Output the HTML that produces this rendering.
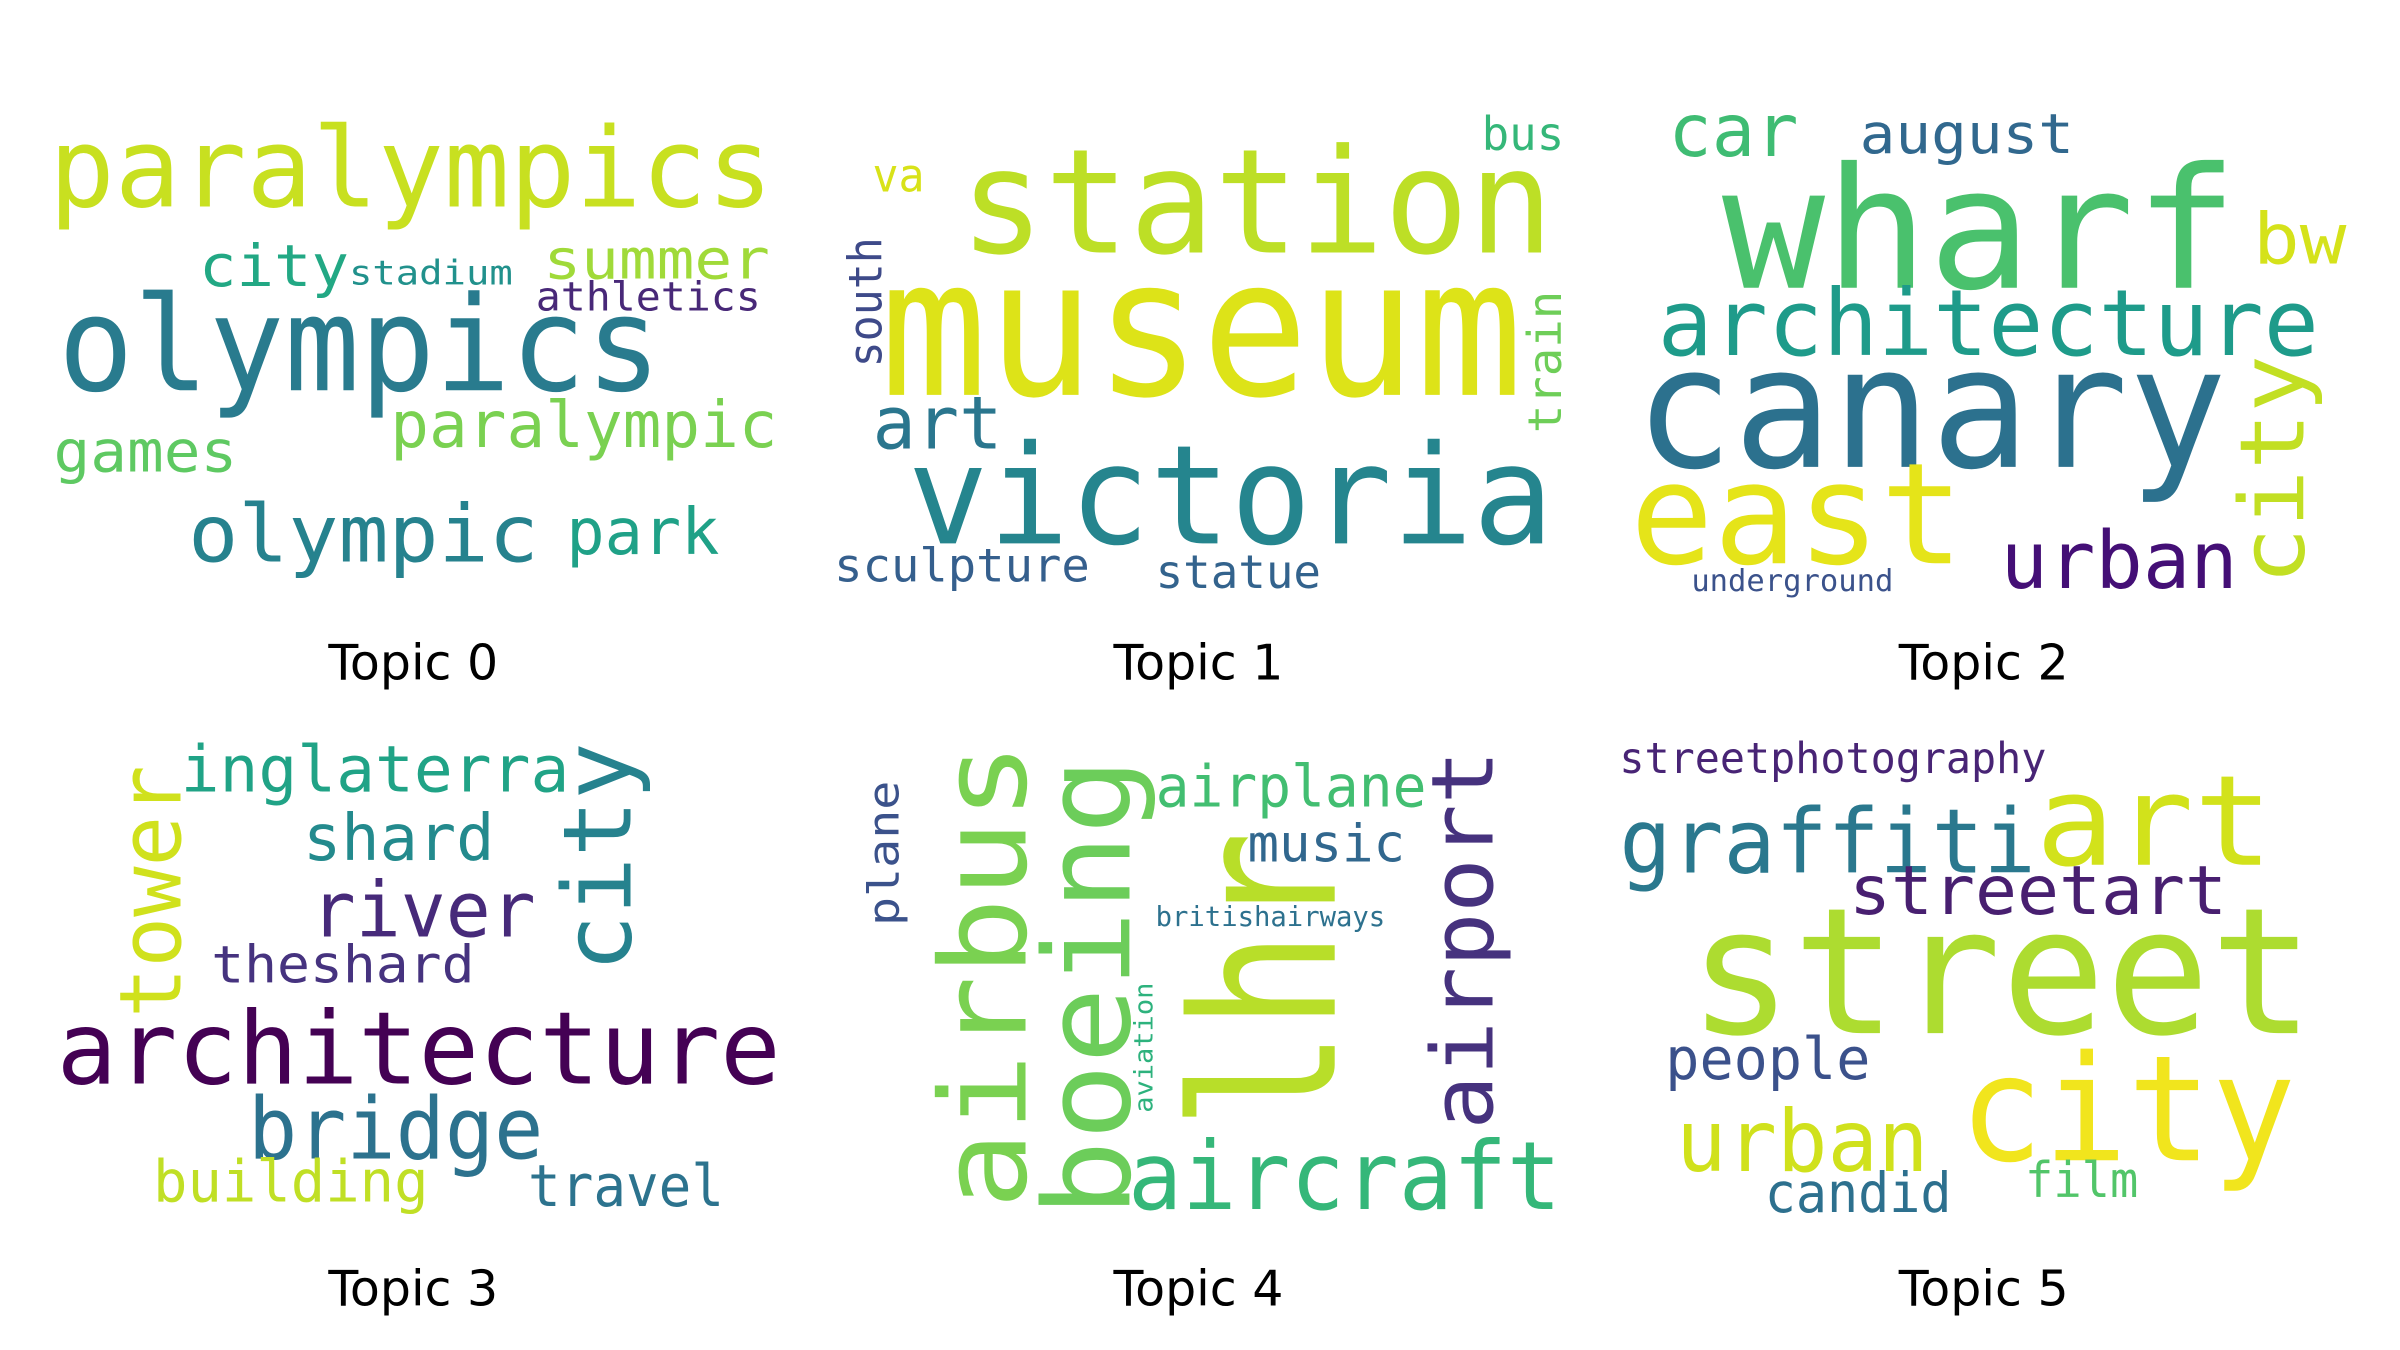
<!DOCTYPE html>
<html><head><meta charset="utf-8"><style>
html,body{margin:0;padding:0;background:#fff;}
svg{display:block;}
.w{font-family:"DejaVu Sans Mono","Liberation Mono",monospace;}
.t{font-family:"DejaVu Sans","Liberation Sans",sans-serif;font-size:32px;fill:#000;}
</style></head><body>
<svg width="2400" height="1350" viewBox="0 0 1568 882" xmlns="http://www.w3.org/2000/svg">
<g class="w">
<text x="32" y="135" font-size="72" fill="#c8e020" textLength="473" lengthAdjust="spacingAndGlyphs">paralympics</text>
<text x="38" y="255" font-size="86" fill="#297b8e" textLength="394" lengthAdjust="spacingAndGlyphs">olympics</text>
<text x="130" y="187" font-size="38" fill="#22a884" textLength="98" lengthAdjust="spacingAndGlyphs">city</text>
<text x="228" y="186" font-size="22" fill="#21918c" textLength="107" lengthAdjust="spacingAndGlyphs">stadium</text>
<text x="355" y="182" font-size="36" fill="#a0da39" textLength="148" lengthAdjust="spacingAndGlyphs">summer</text>
<text x="350" y="203" font-size="26" fill="#482878" textLength="147" lengthAdjust="spacingAndGlyphs">athletics</text>
<text x="35" y="308" font-size="38" fill="#5ec962" textLength="120" lengthAdjust="spacingAndGlyphs">games</text>
<text x="255" y="292" font-size="42" fill="#7ad151" textLength="253" lengthAdjust="spacingAndGlyphs">paralympic</text>
<text x="123" y="367" font-size="52" fill="#26828e" textLength="229" lengthAdjust="spacingAndGlyphs">olympic</text>
<text x="370" y="362" font-size="42" fill="#1fa187" textLength="100" lengthAdjust="spacingAndGlyphs">park</text>
</g>
<text class="t" x="270" y="444" text-anchor="middle">Topic 0</text>

<g class="w">
<text x="627" y="165" font-size="95" fill="#bddf26" textLength="388" lengthAdjust="spacingAndGlyphs">station</text>
<text x="575" y="258" font-size="125" fill="#dde318" textLength="420" lengthAdjust="spacingAndGlyphs">museum</text>
<text x="593" y="355" font-size="90" fill="#25858e" textLength="422" lengthAdjust="spacingAndGlyphs">victoria</text>
<text x="570" y="293" font-size="48" fill="#2a768e" textLength="85" lengthAdjust="spacingAndGlyphs">art</text>
<text x="570" y="125" font-size="30" fill="#d8e219" textLength="34" lengthAdjust="spacingAndGlyphs">va</text>
<text x="968" y="98" font-size="30" fill="#35b779" textLength="54" lengthAdjust="spacingAndGlyphs">bus</text>
<text transform="translate(576,240) rotate(-90)" font-size="30" fill="#3e4a89" textLength="85" lengthAdjust="spacingAndGlyphs">south</text>
<text transform="translate(1020,283) rotate(-90)" font-size="30" fill="#6ece58" textLength="93" lengthAdjust="spacingAndGlyphs">train</text>
<text x="545" y="380" font-size="30" fill="#355f8d" textLength="167" lengthAdjust="spacingAndGlyphs">sculpture</text>
<text x="755" y="384" font-size="30" fill="#33638d" textLength="108" lengthAdjust="spacingAndGlyphs">statue</text>
</g>
<text class="t" x="783" y="444" text-anchor="middle">Topic 1</text>

<g class="w">
<text x="1090" y="102" font-size="48" fill="#3fbc73" textLength="85" lengthAdjust="spacingAndGlyphs">car</text>
<text x="1215" y="100" font-size="36" fill="#31688e" textLength="140" lengthAdjust="spacingAndGlyphs">august</text>
<text x="1125" y="188" font-size="110" fill="#4ac16d" textLength="337" lengthAdjust="spacingAndGlyphs">wharf</text>
<text x="1472" y="172" font-size="46" fill="#d5e21a" textLength="61" lengthAdjust="spacingAndGlyphs">bw</text>
<text x="1083" y="232" font-size="60" fill="#1e9b8a" textLength="432" lengthAdjust="spacingAndGlyphs">architecture</text>
<text x="1068" y="305" font-size="110" fill="#2c718e" textLength="387" lengthAdjust="spacingAndGlyphs">canary</text>
<text x="1065" y="368" font-size="92" fill="#e5e419" textLength="218" lengthAdjust="spacingAndGlyphs">east</text>
<text transform="translate(1505,382) rotate(-90)" font-size="58" fill="#c2df23" textLength="150" lengthAdjust="spacingAndGlyphs">city</text>
<text x="1307" y="384" font-size="52" fill="#440f76" textLength="155" lengthAdjust="spacingAndGlyphs">urban</text>
<text x="1105" y="386" font-size="20" fill="#3b528b" textLength="132" lengthAdjust="spacingAndGlyphs">underground</text>
</g>
<text class="t" x="1296" y="444" text-anchor="middle">Topic 2</text>

<g class="w">
<text x="118" y="517" font-size="42" fill="#20a386" textLength="254" lengthAdjust="spacingAndGlyphs">inglaterra</text>
<text transform="translate(412,635) rotate(-90)" font-size="62" fill="#26828e" textLength="150" lengthAdjust="spacingAndGlyphs">city</text>
<text transform="translate(118,665) rotate(-90)" font-size="56" fill="#d0e11c" textLength="165" lengthAdjust="spacingAndGlyphs">tower</text>
<text x="198" y="562" font-size="42" fill="#238a8d" textLength="125" lengthAdjust="spacingAndGlyphs">shard</text>
<text x="203" y="612" font-size="50" fill="#472a7a" textLength="147" lengthAdjust="spacingAndGlyphs">river</text>
<text x="138" y="642" font-size="34" fill="#46337f" textLength="172" lengthAdjust="spacingAndGlyphs">theshard</text>
<text x="37" y="708" font-size="66" fill="#440154" textLength="473" lengthAdjust="spacingAndGlyphs">architecture</text>
<text x="162" y="757" font-size="56" fill="#2c728e" textLength="193" lengthAdjust="spacingAndGlyphs">bridge</text>
<text x="100" y="785" font-size="38" fill="#c0df25" textLength="180" lengthAdjust="spacingAndGlyphs">building</text>
<text x="345" y="788" font-size="38" fill="#2c738e" textLength="128" lengthAdjust="spacingAndGlyphs">travel</text>
</g>
<text class="t" x="270" y="853" text-anchor="middle">Topic 3</text>

<g class="w">
<text transform="translate(670,790) rotate(-90)" font-size="78" fill="#7ad151" textLength="305" lengthAdjust="spacingAndGlyphs">airbus</text>
<text transform="translate(738,795) rotate(-90)" font-size="78" fill="#6ccd5a" textLength="300" lengthAdjust="spacingAndGlyphs">boeing</text>
<text transform="translate(872,738) rotate(-90)" font-size="130" fill="#b8de29" textLength="195" lengthAdjust="spacingAndGlyphs">lhr</text>
<text x="755" y="527" font-size="38" fill="#42be71" textLength="177" lengthAdjust="spacingAndGlyphs">airplane</text>
<text x="815" y="563" font-size="34" fill="#31678e" textLength="103" lengthAdjust="spacingAndGlyphs">music</text>
<text x="755" y="605" font-size="18" fill="#2d718e" textLength="150" lengthAdjust="spacingAndGlyphs">britishairways</text>
<text transform="translate(587,605) rotate(-90)" font-size="28" fill="#3b528b" textLength="95" lengthAdjust="spacingAndGlyphs">plane</text>
<text transform="translate(753,727) rotate(-90)" font-size="17" fill="#2db27d" textLength="85" lengthAdjust="spacingAndGlyphs">aviation</text>
<text transform="translate(975,738) rotate(-90)" font-size="56" fill="#46327e" textLength="248" lengthAdjust="spacingAndGlyphs">airport</text>
<text x="737" y="790" font-size="62" fill="#35b779" textLength="283" lengthAdjust="spacingAndGlyphs">aircraft</text>
</g>
<text class="t" x="783" y="853" text-anchor="middle">Topic 4</text>

<g class="w">
<text x="1058" y="505" font-size="28" fill="#482475" textLength="279" lengthAdjust="spacingAndGlyphs">streetphotography</text>
<text x="1058" y="570" font-size="58" fill="#2a788e" textLength="272" lengthAdjust="spacingAndGlyphs">graffiti</text>
<text x="1330" y="565" font-size="82" fill="#d2e21b" textLength="155" lengthAdjust="spacingAndGlyphs">art</text>
<text x="1208" y="597" font-size="44" fill="#481f70" textLength="247" lengthAdjust="spacingAndGlyphs">streetart</text>
<text x="1103" y="675" font-size="115" fill="#addc30" textLength="409" lengthAdjust="spacingAndGlyphs">street</text>
<text x="1088" y="705" font-size="38" fill="#3b518b" textLength="134" lengthAdjust="spacingAndGlyphs">people</text>
<text x="1095" y="765" font-size="56" fill="#d0e11c" textLength="165" lengthAdjust="spacingAndGlyphs">urban</text>
<text x="1280" y="758" font-size="96" fill="#f1e51d" textLength="220" lengthAdjust="spacingAndGlyphs">city</text>
<text x="1153" y="792" font-size="36" fill="#2d708e" textLength="122" lengthAdjust="spacingAndGlyphs">candid</text>
<text x="1323" y="782" font-size="32" fill="#52c569" textLength="74" lengthAdjust="spacingAndGlyphs">film</text>
</g>
<text class="t" x="1296" y="853" text-anchor="middle">Topic 5</text>
</svg>
</body></html>
